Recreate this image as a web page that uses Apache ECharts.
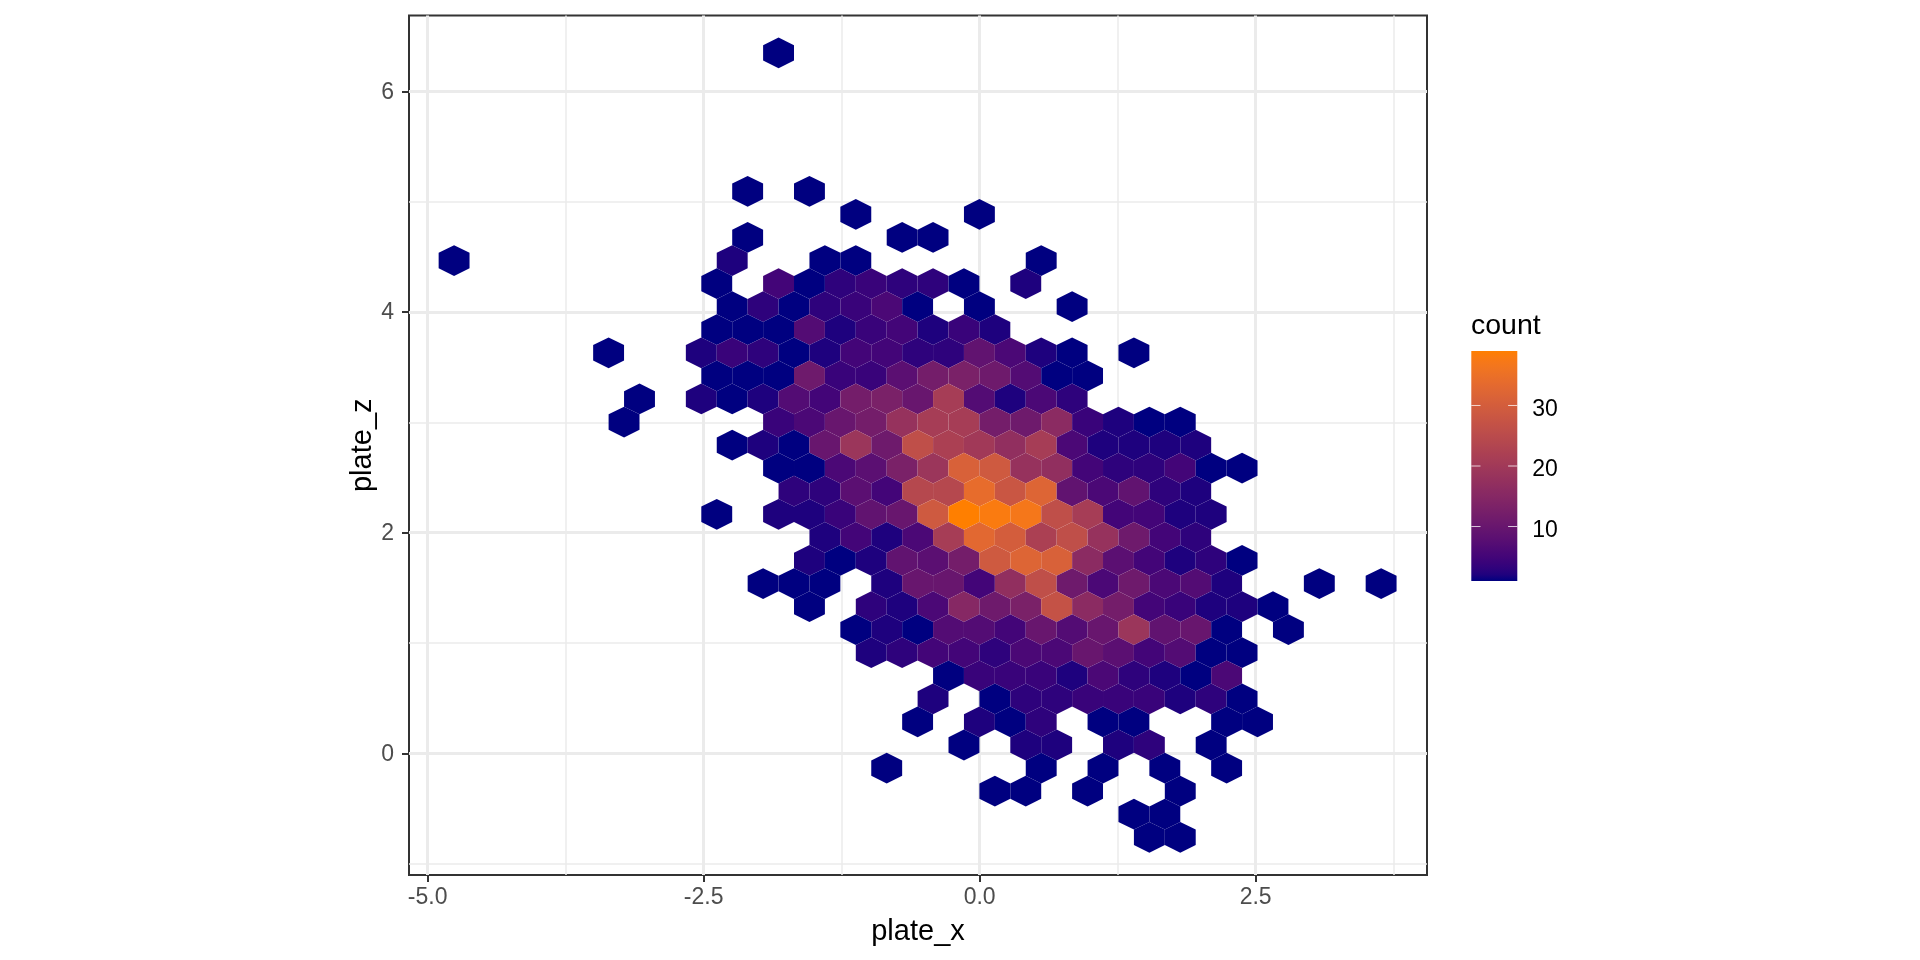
<!DOCTYPE html>
<html>
<head>
<meta charset="utf-8">
<style>html,body{margin:0;padding:0;background:#fff}#c{width:1920px;height:960px}</style>
<script src="https://cdn.jsdelivr.net/npm/echarts@6/dist/echarts.min.js"></script>
</head>
<body>
<div id="c"></div>
<script>
// Hexbin lattice: plate_x = originX + col * halfBinX, plate_z = originZ - row * rowStepZ
const originX = -0.1422, halfBinX = 0.13995, originZ = 2.1662, rowStepZ = 0.2091;
const rowIndex = [-20,-14,-13,-12,-11,-10,-9,-8,-7,-6,-5,-4,-3,-2,-1,0,1,2,3,4,5,6,7,8,9,10,11,12,13,14];
const rowCols = [
  [-12],
  [-14,-10],
  [-7,1],
  [-14,-4,-2],
  [-33,-15,-9,-7,5],
  [-16,-12,-10,-8,-6,-4,-2,0,4],
  [-15,-13,-11,-9,-7,-5,-3,1,7],
  [-16,-14,-12,-10,-8,-6,-4,-2,0,2],
  [-23,-17,-15,-13,-11,-9,-7,-5,-3,-1,1,3,5,7,11],
  [-16,-14,-12,-10,-8,-6,-4,-2,0,2,4,6,8],
  [-21,-17,-15,-13,-11,-9,-7,-5,-3,-1,1,3,5,7],
  [-22,-12,-10,-8,-6,-4,-2,0,2,4,6,8,10,12,14],
  [-15,-13,-11,-9,-7,-5,-3,-1,1,3,5,7,9,11,13,15],
  [-12,-10,-8,-6,-4,-2,0,2,4,6,8,10,12,14,16,18],
  [-11,-9,-7,-5,-3,-1,1,3,5,7,9,11,13,15],
  [-16,-12,-10,-8,-6,-4,-2,0,2,4,6,8,10,12,14,16],
  [-9,-7,-5,-3,-1,1,3,5,7,9,11,13,15],
  [-10,-8,-6,-4,-2,0,2,4,6,8,10,12,14,16,18],
  [-13,-11,-9,-5,-3,-1,1,3,5,7,9,11,13,15,17,23,27],
  [-10,-6,-4,-2,0,2,4,6,8,10,12,14,16,18,20],
  [-7,-5,-3,-1,1,3,5,7,9,11,13,15,17,21],
  [-6,-4,-2,0,2,4,6,8,10,12,14,16,18],
  [-1,1,3,5,7,9,11,13,15,17],
  [-2,2,4,6,8,10,12,14,16,18],
  [-3,1,3,5,9,11,17,19],
  [0,4,6,10,12,16],
  [-5,5,9,13,17],
  [2,4,8,14],
  [11,13],
  [12,14]
];
const rowCounts = [
  [1],
  [1,1],
  [1,1],
  [1,1,1],
  [1,2,1,1,1],
  [1,5,1,3,4,3,3,1,2],
  [1,3,1,3,4,6,1,1,1],
  [1,1,1,7,2,4,5,2,4,2],
  [1,2,4,3,1,2,5,5,3,3,9,6,2,1,1],
  [1,1,1,11,4,4,8,12,13,11,7,1,1],
  [1,2,1,2,7,5,12,13,10,21,7,2,6,3],
  [1,4,6,10,12,18,21,21,12,11,16,4,2,1,1],
  [1,2,1,10,19,11,26,22,20,17,21,6,2,2,2,2],
  [1,1,6,8,13,19,31,29,18,17,5,3,3,5,1,1],
  [3,3,8,5,24,24,34,28,32,9,6,9,3,2],
  [1,2,2,4,9,10,29,39,38,37,26,21,5,5,2,2],
  [2,5,2,6,21,33,30,22,26,18,11,5,3],
  [2,1,2,9,8,12,29,32,31,16,8,5,2,3,1],
  [1,1,1,2,10,10,5,17,26,11,6,11,6,7,2,1,1],
  [1,3,2,6,15,11,13,27,16,12,5,4,2,2,1],
  [1,2,1,7,7,5,10,7,10,19,9,10,1,1],
  [2,3,5,5,3,6,6,10,8,5,7,1,1],
  [1,4,4,4,2,6,3,2,1,6],
  [2,1,3,3,4,4,4,2,3,1],
  [1,2,1,3,1,1,1,1],
  [1,2,2,2,3,1],
  [1,1,1,1,1],
  [1,1,1,1],
  [1,1],
  [1,1]
];
const xMajor = [-5, -2.5, 0, 2.5];
const xMinor = [-3.75, -1.25, 1.25, 3.75];
const zMajor = [0, 2, 4, 6];
const zMinor = [-1, 1, 3, 5];
const legendTicks = [10, 20, 30];
const countMin = 1, countMax = 39;
const xMin = -5.169, xMax = 4.052, zMin = -1.103, zMax = 6.687;
const lowColor = '#000080', highColor = '#ff7f00';

function rgb2lab(h){
  let c=[1,3,5].map(i=>parseInt(h.substr(i,2),16)/255).map(v=>v>0.04045?Math.pow((v+0.055)/1.055,2.4):v/12.92);
  let x=(0.4124564*c[0]+0.3575761*c[1]+0.1804375*c[2])/0.95047,
      y=(0.2126729*c[0]+0.7151522*c[1]+0.072175*c[2]),
      z=(0.0193339*c[0]+0.119192*c[1]+0.9503041*c[2])/1.08883;
  const f=t=>t>0.008856?Math.cbrt(t):7.787*t+16/116;
  return [116*f(y)-16,500*(f(x)-f(y)),200*(f(y)-f(z))];
}
function lab2rgb(l){
  const fy=(l[0]+16)/116,fx=fy+l[1]/500,fz=fy-l[2]/200;
  const g=t=>t*t*t>0.008856?t*t*t:(t-16/116)/7.787;
  const X=g(fx)*0.95047,Y=g(fy),Z=g(fz)*1.08883;
  const r=[3.2404542*X-1.5371385*Y-0.4985314*Z,-0.969266*X+1.8760108*Y+0.041556*Z,0.0556434*X-0.2040259*Y+1.0572252*Z];
  const v=r.map(u=>{u=Math.max(0,Math.min(1,u));return Math.round(255*(u>0.0031308?1.055*Math.pow(u,1/2.4)-0.055:12.92*u));});
  return 'rgb('+v.join(',')+')';
}
const labA=rgb2lab(lowColor),labB=rgb2lab(highColor),ramp=[];
for(let i=0;i<=38;i++){const t=i/38;ramp.push(lab2rgb(labA.map((a,j)=>a+(labB[j]-a)*t)));}

const hexData=[];
rowIndex.forEach((r,i)=>rowCols[i].forEach((c,j)=>{
  hexData.push([originX+c*halfBinX, originZ-r*rowStepZ, rowCounts[i][j]]);
}));

const AXIS_FONT='"Liberation Sans", Arial, Helvetica, sans-serif';
const grey='#4d4d4d', dark='#333333', gridCol='#ebebeb';
const chart=echarts.init(document.getElementById('c'),null,{renderer:'canvas',width:1920,height:960});
function minorAxis(vals,min,max,grid,pos){
  return {type:'value',gridIndex:grid,min,max,position:pos,
    axisLine:{show:false,onZero:false},axisLabel:{show:false},
    axisTick:{show:false,customValues:vals},
    splitLine:{show:true,lineStyle:{color:gridCol,width:1.5}}};
}
chart.setOption({
  animation:false,
  backgroundColor:'#ffffff',
  textStyle:{fontFamily:AXIS_FONT},
  title:{text:'count',left:1471,top:312,padding:0,
    textStyle:{fontFamily:AXIS_FONT,fontSize:28.5,fontWeight:'normal',color:'#000'}},
  grid:[
    {left:409,top:15.5,width:1018,height:859.5,show:true,borderColor:dark,borderWidth:2,backgroundColor:'#fff',containLabel:false},
    {left:1471.3,top:351,width:46,height:230,show:false}
  ],
  xAxis:[
    {type:'value',gridIndex:0,min:xMin,max:xMax,position:'bottom',
      name:'plate_x',nameLocation:'middle',nameGap:42,nameMoveOverlap:false,
      nameTextStyle:{fontFamily:AXIS_FONT,fontSize:29,color:'#000'},
      axisLine:{show:false,onZero:false},
      axisTick:{show:true,length:7,lineStyle:{color:dark,width:2},customValues:xMajor},
      axisLabel:{show:true,margin:11,fontFamily:AXIS_FONT,fontSize:23,color:grey,customValues:xMajor,
        formatter:v=>v.toFixed(1),showMinLabel:true,showMaxLabel:true},
      splitLine:{show:true,lineStyle:{color:gridCol,width:3}}},
    minorAxis(xMinor,xMin,xMax,0,'bottom'),
    {type:'value',gridIndex:1,min:0,max:1,show:false}
  ],
  yAxis:[
    {type:'value',gridIndex:0,min:zMin,max:zMax,position:'left',
      name:'plate_z',nameLocation:'middle',nameGap:32,nameRotate:90,nameMoveOverlap:false,
      nameTextStyle:{fontFamily:AXIS_FONT,fontSize:29,color:'#000'},
      axisLine:{show:false,onZero:false},
      axisTick:{show:true,length:7,lineStyle:{color:dark,width:2},customValues:zMajor},
      axisLabel:{show:true,margin:15,fontFamily:AXIS_FONT,fontSize:23,color:grey,customValues:zMajor,
        verticalAlign:'top',lineHeight:2,formatter:v=>v.toFixed(0)},
      splitLine:{show:true,lineStyle:{color:gridCol,width:3}}},
    minorAxis(zMinor,zMin,zMax,0,'left'),
    {type:'value',gridIndex:1,min:countMin,max:countMax,position:'right',
      axisLine:{show:false,onZero:false},
      axisTick:{show:false,customValues:legendTicks},
      axisLabel:{show:true,margin:15,fontFamily:AXIS_FONT,fontSize:23,color:'#000',customValues:legendTicks,
        verticalAlign:'top',lineHeight:8},
      splitLine:{show:false}}
  ],
  visualMap:[{
    type:'continuous',show:false,seriesIndex:0,dimension:2,min:countMin,max:countMax,
    inRange:{color:ramp}
  }],
  series:[
    {type:'custom',xAxisIndex:0,yAxisIndex:0,coordinateSystem:'cartesian2d',z:3,
      silent:true,
      encode:{x:0,y:1},
      data:hexData,
      renderItem:function(params,api){
        const x=api.value(0),z=api.value(1);
        const pts=[[x,z+rowStepZ*2/3],[x+halfBinX,z+rowStepZ/3],[x+halfBinX,z-rowStepZ/3],
                   [x,z-rowStepZ*2/3],[x-halfBinX,z-rowStepZ/3],[x-halfBinX,z+rowStepZ/3]].map(p=>api.coord(p));
        return {type:'polygon',shape:{points:pts},style:{fill:api.visual('color'),stroke:null}};
      }},
    {type:'custom',xAxisIndex:2,yAxisIndex:2,coordinateSystem:'cartesian2d',z:5,silent:true,
      data:[[0,countMin,1,countMax]],
      encode:{y:[1,3]},
      renderItem:function(params,api){
        const a=api.coord([0,countMax]),b=api.coord([1,countMin]);
        return {type:'rect',shape:{x:a[0],y:a[1],width:b[0]-a[0],height:b[1]-a[1]},
          style:{fill:new echarts.graphic.LinearGradient(0,0,0,1,
            ramp.map((c,i)=>({offset:1-i/(ramp.length-1),color:c})).reverse())}};
      }},
    {type:'custom',xAxisIndex:2,yAxisIndex:2,coordinateSystem:'cartesian2d',z:20,silent:true,
      data:legendTicks.map(v=>[0,v]),
      encode:{y:1},
      renderItem:function(params,api){
        const v=api.value(1);
        const seg=(a,b)=>{const p=api.coord([a,v]),q=api.coord([b,v]);
          return {type:'line',shape:{x1:p[0],y1:p[1],x2:q[0],y2:q[1]},style:{stroke:'rgba(255,255,255,0.75)',lineWidth:1}};};
        return {type:'group',children:[seg(0,0.2),seg(0.8,1)]};
      }}
  ]
});
</script>
</body>
</html>
